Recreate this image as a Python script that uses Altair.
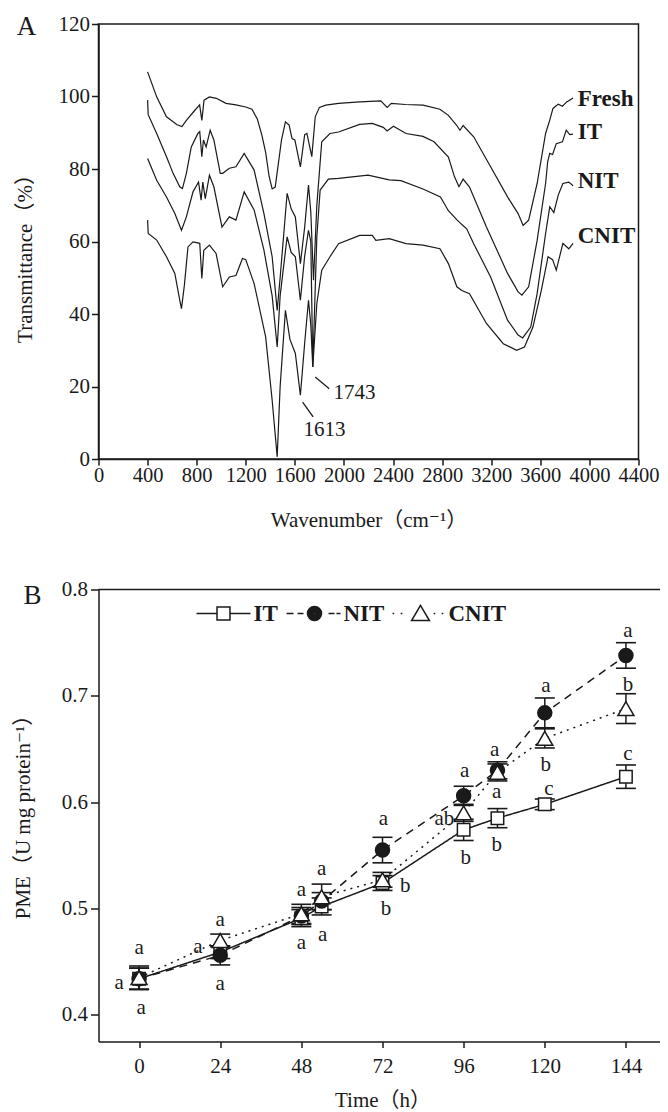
import altair as alt
import pandas as pd

FONT = "Liberation Serif, Noto Sans CJK SC, DejaVu Serif"
INK = "#1a1a1a"

# ---------------- Panel A: FTIR spectra (wavenumber cm-1, transmittance %) ----------------
fresh_curve = [(400, 106.8), (474, 99.9), (554, 94.4), (640, 92.2), (680, 91.7), (716, 93.4), (780, 96.0),
               (824, 97.7), (842, 93.4), (860, 99.0), (904, 99.9), (960, 99.5), (1039, 98.1), (1120, 97.7),
               (1200, 97.1), (1250, 96.5), (1294, 93.8), (1330, 89.5), (1362, 84.6), (1390, 78.0), (1415, 74.5),
               (1440, 75.0), (1491, 88.0), (1523, 93.0), (1553, 92.1), (1577, 88.4), (1600, 88.0), (1645, 80.6),
               (1680, 89.5), (1698, 89.8), (1738, 83.4), (1766, 94.4), (1800, 97.0), (1852, 97.6), (1956, 98.1),
               (2128, 98.5), (2300, 98.8), (2352, 97.0), (2386, 98.1), (2500, 97.8), (2644, 97.6), (2782, 96.5),
               (2851, 94.8), (2920, 92.0), (2945, 90.7), (2971, 92.0), (3057, 88.9), (3195, 80.6), (3333, 72.3),
               (3419, 67.7), (3460, 64.4), (3505, 65.9), (3574, 76.0), (3643, 89.8), (3677, 93.5), (3703, 96.7),
               (3746, 97.9), (3780, 97.3), (3815, 98.5), (3867, 99.6)]
it_curve = [(400, 99.0), (405, 95.0), (474, 89.8), (554, 83.4), (608, 78.8), (662, 75.1), (684, 74.6),
            (716, 78.8), (756, 86.1), (810, 89.8), (825, 90.3), (842, 83.4), (855, 88.0), (877, 86.1),
            (910, 90.7), (940, 88.0), (992, 78.8), (1012, 78.8), (1066, 80.2), (1120, 80.6), (1187, 84.3),
            (1268, 79.7), (1348, 67.7), (1415, 55.8), (1456, 41.0), (1480, 50.0), (1537, 73.3), (1570, 69.0),
            (1604, 66.8), (1645, 53.9), (1680, 64.0), (1711, 75.6), (1730, 68.0), (1752, 49.3), (1779, 70.0),
            (1819, 87.5), (1886, 89.8), (1956, 90.2), (2128, 92.3), (2231, 92.6), (2320, 91.5), (2352, 90.5),
            (2403, 91.8), (2506, 89.8), (2644, 89.0), (2734, 87.5), (2851, 83.3), (2900, 77.9), (2937, 75.1),
            (2971, 77.2), (3023, 75.0), (3161, 64.0), (3333, 51.2), (3419, 46.1), (3450, 45.2), (3505, 47.5),
            (3574, 60.3), (3643, 76.0), (3660, 82.0), (3677, 84.3), (3700, 84.0), (3730, 87.0), (3780, 87.5),
            (3811, 90.7), (3840, 89.5), (3867, 89.6)]
nit_curve = [(400, 82.9), (474, 76.9), (554, 72.3), (622, 67.7), (676, 63.1), (716, 66.8), (770, 73.7),
             (815, 76.4), (836, 71.4), (850, 76.4), (870, 71.8), (904, 78.3), (940, 75.1), (1006, 64.0),
             (1066, 66.8), (1120, 65.9), (1187, 73.7), (1268, 68.7), (1348, 57.6), (1415, 45.0), (1456, 30.9),
             (1480, 45.0), (1537, 61.3), (1570, 57.0), (1604, 55.8), (1645, 43.8), (1680, 56.0), (1711, 63.1),
             (1730, 60.0), (1746, 25.4), (1779, 61.3), (1806, 74.2), (1873, 77.2), (1956, 77.4), (2196, 78.3),
             (2369, 77.0), (2464, 76.8), (2644, 74.5), (2786, 72.3), (2851, 68.5), (2923, 65.9), (2963, 64.6),
             (3000, 63.5), (3057, 59.4), (3195, 50.2), (3333, 38.3), (3419, 34.2), (3456, 33.4), (3522, 36.4),
             (3574, 45.6), (3643, 62.2), (3677, 69.6), (3710, 68.0), (3746, 72.8), (3784, 76.0), (3832, 76.4),
             (3867, 75.4)]
cnit_curve = [(400, 65.9), (405, 62.2), (474, 60.4), (554, 55.8), (622, 51.2), (662, 43.8), (676, 41.5),
              (700, 48.0), (729, 58.5), (770, 59.9), (825, 59.5), (842, 49.8), (858, 57.6), (904, 59.0),
              (958, 56.7), (1012, 47.5), (1066, 50.2), (1120, 50.6), (1173, 55.3), (1200, 55.0), (1268, 48.4),
              (1362, 33.7), (1415, 16.2), (1456, 0.6), (1480, 20.0), (1523, 41.0), (1560, 33.0), (1604, 29.1),
              (1645, 17.6), (1680, 32.0), (1711, 43.8), (1730, 37.0), (1746, 25.4), (1779, 42.9), (1819, 52.1),
              (1886, 55.8), (1956, 59.4), (2128, 61.7), (2231, 61.7), (2260, 60.3), (2369, 60.8), (2506, 59.4),
              (2644, 59.0), (2782, 58.0), (2851, 53.9), (2920, 47.5), (2960, 46.5), (3023, 45.6), (3161, 37.4),
              (3298, 31.8), (3407, 30.0), (3471, 30.9), (3540, 36.4), (3608, 46.5), (3663, 55.8), (3700, 55.0),
              (3730, 52.1), (3784, 59.5), (3832, 58.0), (3867, 59.5)]

curve_names = ["Fresh", "IT", "NIT", "CNIT"]
curve_label_wn = [3905, 3905, 3905, 3905]
curve_label_t = [99.4, 90.3, 76.6, 61.5]

peak_labels = ["1613", "1743"]
peak_label_wn = [1842, 2086]
peak_label_t = [7.9, 18.3]
leader_wn_start = [1663, 1766]
leader_wn_end = [1749, 1880]
leader_t_start = [15.7, 22.6]
leader_t_end = [11.6, 19.4]

# ---------------- Panel B: PME activity ----------------
series_names = ["IT", "NIT", "CNIT"]
times = [0, 24, 48, 54, 72, 96, 106, 120, 144]
it_pme = [0.434, 0.459, 0.491, 0.502, 0.524, 0.574, 0.585, 0.598, 0.624]
it_sd = [0.010, 0.006, 0.008, 0.008, 0.007, 0.010, 0.009, 0.005, 0.011]
nit_pme = [0.434, 0.456, 0.493, 0.507, 0.555, 0.606, 0.630, 0.684, 0.738]
nit_sd = [0.010, 0.009, 0.008, 0.008, 0.012, 0.009, 0.008, 0.014, 0.012]
cnit_pme = [0.435, 0.470, 0.495, 0.511, 0.527, 0.590, 0.628, 0.660, 0.688]
cnit_sd = [0.011, 0.006, 0.009, 0.012, 0.007, 0.008, 0.008, 0.009, 0.014]
tick_hours = [0, 24, 48, 72, 96, 120, 144]

letter_t = [0, -5.9, 0.6, 24, 17.4, 24, 48, 48, 54, 54.3, 72.3, 78.7, 73, 96.3, 90.3, 96.6,
            105.2, 105.8, 105.8, 120.3, 120.3, 121.2, 144.6, 144.6, 144.6]
letter_v = [0.4625, 0.4296, 0.4066, 0.4894, 0.4634, 0.4286, 0.5173, 0.4674, 0.537, 0.4756, 0.584,
            0.5216, 0.4993, 0.6294, 0.584, 0.5479, 0.6488, 0.6097, 0.5594, 0.709, 0.635, 0.6127,
            0.7606, 0.7106, 0.6449]
letter_txt = ["a", "a", "a", "a", "a", "a", "a", "a", "a", "a", "a", "b", "b", "a", "ab", "b",
              "a", "a", "b", "a", "b", "c", "a", "b", "c"]


# legend glyphs (line + marker) as custom symbol paths in the unit box [-1, 1]
def ring(cx, r):
    return f"M{cx + r:.3f},0A{r},{r},0,1,1,{cx - r:.3f},0A{r},{r},0,1,1,{cx + r:.3f},0"


dot_path = "".join(ring(0.037, r) for r in [0.26, 0.21, 0.16, 0.11, 0.06, 0.02])
legend_paths = [
    "M-1,0L-0.24,0M0.24,0L1,0M-0.24,-0.24L0.24,-0.24L0.24,0.24L-0.24,0.24Z",
    "M-1,0L-0.74,0M-0.59,0L-0.37,0" + dot_path + "M0.556,0L0.778,0M0.85,0L1,0",
    "M-0.96,0L-0.9,0M-0.66,0L-0.6,0M0.074,-0.3L-0.256,0.26L0.404,0.26ZM0.56,0L0.62,0M0.86,0L0.92,0",
]

# ---------------- frames ----------------
spec_rows = []
for name, curve in zip(curve_names, [fresh_curve, it_curve, nit_curve, cnit_curve]):
    for i, (w, t) in enumerate(curve):
        spec_rows.append({"curve": name, "i": i, "wn": w, "T": t})
spec_df = pd.DataFrame(spec_rows)
clabel_df = pd.DataFrame({"name": curve_names, "wn": curve_label_wn, "T": curve_label_t})
peak_df = pd.DataFrame({"txt": peak_labels, "wn": peak_label_wn, "T": peak_label_t})
leader_df = pd.DataFrame({"wn": leader_wn_start, "wn2": leader_wn_end, "T": leader_t_start, "T2": leader_t_end})

pme_rows = []
for name, vals, sds in zip(series_names, [it_pme, nit_pme, cnit_pme], [it_sd, nit_sd, cnit_sd]):
    for t, v, s in zip(times, vals, sds):
        pme_rows.append({"series": name, "time": t, "value": v, "lo": v - s, "hi": v + s})
pme_df = pd.DataFrame(pme_rows)
letters_df = pd.DataFrame({"time": letter_t, "value": letter_v, "txt": letter_txt})

axis_style = dict(labelFont=FONT, labelFontSize=21, labelColor=INK, titleFont=FONT, titleFontSize=21,
                  titleColor=INK, titleFontWeight="normal", domainColor=INK, domainWidth=1.5,
                  tickColor=INK, tickWidth=1.5, grid=False, labelOverlap=False, labelFlush=False)
axis_style_ax = {**axis_style, "labelFontSize": 20.5}

# ---------------- Panel A chart ----------------
xsA = alt.Scale(domain=[0, 4400], nice=False, zero=False)
ysA = alt.Scale(domain=[0, 120], nice=False, zero=False)
axA_x = alt.Axis(values=list(range(0, 4401, 400)), format="d", title="Wavenumber（cm⁻¹）", tickSize=6,
                 labelPadding=0, titleY=61, titleBaseline="middle", titleAlign="center", **axis_style_ax)
axA_y = alt.Axis(values=list(range(0, 121, 20)), format="d", title="Transmittance（%）", tickSize=7,
                 labelPadding=2, titleX=-73, titleY=229, titleAngle=270, titleAlign="center",
                 titleBaseline="middle", **axis_style)


def XA(f):
    return alt.X(f"{f}:Q", scale=xsA, axis=axA_x)


def YA(f):
    return alt.Y(f"{f}:Q", scale=ysA, axis=axA_y)


spectra = alt.Chart(spec_df).mark_line(color=INK, strokeWidth=1.2).encode(
    x=XA("wn"), y=YA("T"), detail="curve:N", order="i:Q")
curve_text = alt.Chart(clabel_df).mark_text(align="left", baseline="middle", font=FONT, fontSize=23,
                                            fontWeight="bold", color=INK).encode(
    x=XA("wn"), y=YA("T"), text="name:N")
peak_text = alt.Chart(peak_df).mark_text(align="center", baseline="middle", font=FONT, fontSize=21,
                                         color=INK).encode(x=XA("wn"), y=YA("T"), text="txt:N")
leaders = alt.Chart(leader_df).mark_rule(color=INK, strokeWidth=1.3).encode(
    x=XA("wn"), x2="wn2:Q", y=YA("T"), y2="T2:Q")
tagA = alt.Chart(pd.DataFrame({"tag": ["A"]})).mark_text(
    align="center", baseline="alphabetic", font=FONT, fontSize=27, color=INK).encode(
    x=alt.value(-72), y=alt.value(11), text="tag:N")

chartA = alt.layer(spectra, leaders, peak_text, curve_text, tagA).properties(
    width=540, height=435, view=alt.ViewBackground(stroke=INK, strokeWidth=1.5))

# ---------------- Panel B chart ----------------
xsB = alt.Scale(domain=[-12, 156], nice=False, zero=False)
ysB = alt.Scale(domain=[0.375, 0.8], nice=False, zero=False)
axB_x = alt.Axis(values=tick_hours, format="d", title="Time（h）", tickSize=6,
                 labelPadding=8, titleY=59, titleBaseline="middle", titleAlign="center", **axis_style)
axB_y = alt.Axis(values=[0.4, 0.5, 0.6, 0.7, 0.8], format=".1f", title="PME（U mg protein⁻¹）", tickSize=8,
                 labelPadding=3, titleX=-75, titleY=222, titleAngle=270, titleAlign="center",
                 titleBaseline="middle", **axis_style)


def XB(f):
    return alt.X(f"{f}:Q", scale=xsB, axis=axB_x)


def YB(f):
    return alt.Y(f"{f}:Q", scale=ysB, axis=axB_y)


top_border = alt.Chart(pd.DataFrame({"value": [0.8]})).mark_rule(color=INK, strokeWidth=1.5).encode(
    y=YB("value"))

dash_map = {"IT": [1, 0], "NIT": [8, 6], "CNIT": [2, 5]}
lines = [
    alt.Chart(pme_df).transform_filter(alt.datum.series == s).mark_line(
        color=INK, strokeWidth=1.5, strokeDash=dash_map[s]).encode(x=XB("time"), y=YB("value"))
    for s in series_names
]
err_rules = alt.Chart(pme_df).mark_rule(color=INK, strokeWidth=1.5).encode(
    x=XB("time"), y=YB("lo"), y2="hi:Q")
cap_lo = alt.Chart(pme_df).mark_tick(orient="horizontal", size=20, thickness=1.6, color=INK, opacity=1).encode(
    x=XB("time"), y=YB("lo"))
cap_hi = alt.Chart(pme_df).mark_tick(orient="horizontal", size=20, thickness=1.6, color=INK, opacity=1).encode(
    x=XB("time"), y=YB("hi"))

marker_style = {
    "IT": dict(shape="square", size=156, fill="white"),
    "NIT": dict(shape="circle", size=196, fill=INK),
    "CNIT": dict(shape="triangle-up", size=256, fill="white"),
}
points = [
    alt.Chart(pme_df).transform_filter(alt.datum.series == s).mark_point(
        filled=True, stroke=INK, strokeWidth=1.5, opacity=1, **marker_style[s]).encode(
        x=XB("time"), y=YB("value"))
    for s in series_names
]

legend_layer = alt.Chart(pme_df).transform_calculate(xfar="datum.time - 1000").mark_point(
    filled=False, color=INK, strokeWidth=1.5, opacity=1, clip=True).encode(
    x=XB("xfar"), y=YB("value"),
    shape=alt.Shape("series:N", scale=alt.Scale(domain=series_names, range=legend_paths),
                    legend=alt.Legend(orient="none", legendX=97, legendY=-4, direction="horizontal",
                                      title=None, symbolSize=2916, symbolStrokeWidth=1.5,
                                      symbolStrokeColor=INK, labelFont=FONT,
                                      labelFontSize=23, labelFontWeight="bold", labelColor=INK,
                                      labelOffset=2, columnPadding=5, padding=0)))

letters = alt.Chart(letters_df).mark_text(align="center", baseline="middle", font=FONT, fontSize=21,
                                          color=INK).encode(x=XB("time"), y=YB("value"), text="txt:N")
tagB = alt.Chart(pd.DataFrame({"tag": ["B"]})).mark_text(
    align="center", baseline="alphabetic", font=FONT, fontSize=27, color=INK).encode(
    x=alt.value(-66), y=alt.value(14), text="tag:N")

chartB = alt.layer(top_border, *lines, err_rules, cap_lo, cap_hi, *points, legend_layer, letters, tagB).properties(
    width=568, height=452, view=alt.ViewBackground(stroke="transparent"))

# fixed canvas 652 x 1104 (fits the window with the page margin); origin at panel A's plot corner
chart = alt.vconcat(chartA, chartB, spacing=46.5).resolve_legend(shape="independent").properties(
    autosize=alt.AutoSizeParams(type="none"),
    padding={"left": 90.5, "top": 16, "right": 561.5, "bottom": 1088}, background="white")

chart.save("out.html", embed_options={"renderer": "svg", "actions": False})
